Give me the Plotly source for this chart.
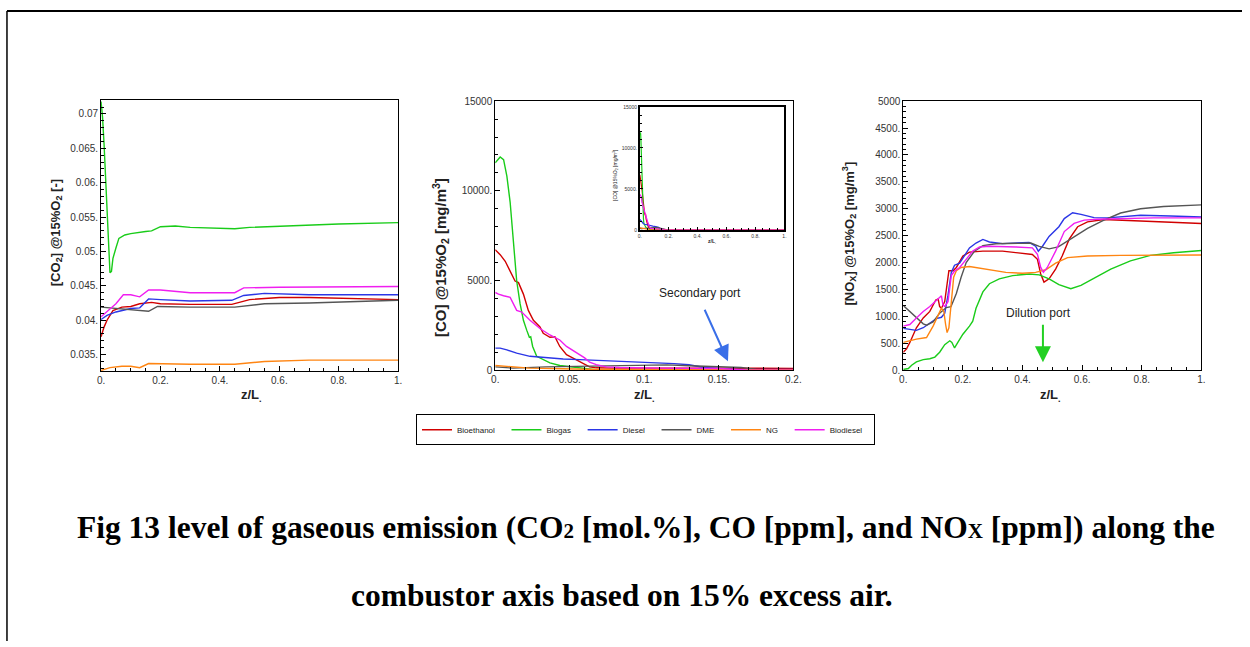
import plotly.graph_objects as go

W, H = 1250, 647

fuels = ["Bioethanol", "Biogas", "Diesel", "DME", "NG", "Biodiesel"]
colors = ["#d10000", "#19cc19", "#2b36e6", "#555555", "#ff8512", "#f01ef0"]

# ---------------- CO2 panel ----------------
co2_x = {
    "Bioethanol": [0, 0.01, 0.02, 0.04, 0.07, 0.1, 0.13, 0.17, 0.2, 0.3, 0.44, 0.5, 0.6, 0.7, 1.0],
    "Biogas": [0, 0.005, 0.01, 0.015, 0.02, 0.025, 0.03, 0.035, 0.04, 0.05, 0.06, 0.08, 0.1, 0.15,
               0.17, 0.2, 0.25, 0.3, 0.4, 0.45, 0.5, 0.6, 0.8, 1.0],
    "Diesel": [0, 0.02, 0.05, 0.1, 0.13, 0.15, 0.16, 0.2, 0.3, 0.44, 0.48, 0.55, 0.6, 0.7, 1.0],
    "DME": [0, 0.05, 0.1, 0.16, 0.19, 0.3, 0.45, 0.55, 0.7, 1.0],
    "NG": [0, 0.03, 0.07, 0.1, 0.13, 0.16, 0.3, 0.45, 0.55, 0.7, 1.0],
    "Biodiesel": [0, 0.03, 0.05, 0.075, 0.1, 0.13, 0.16, 0.2, 0.3, 0.45, 0.48, 0.6, 1.0],
}
co2_y = {
    "Bioethanol": [0.0376, 0.0390, 0.0400, 0.0414, 0.0419, 0.0420, 0.0424, 0.0426, 0.0424, 0.0423,
                   0.0423, 0.0430, 0.0433, 0.0433, 0.0430],
    "Biogas": [0.0718, 0.0695, 0.0657, 0.0610, 0.0562, 0.0495, 0.0469, 0.0471, 0.0490, 0.0505, 0.0519,
               0.0524, 0.0526, 0.0529, 0.0530, 0.0536, 0.0537, 0.0535, 0.0533, 0.0533, 0.0535, 0.0537,
               0.0540, 0.0542],
    "Diesel": [0.0401, 0.0407, 0.0412, 0.0417, 0.0418, 0.0426, 0.0431, 0.0430, 0.0428, 0.0429, 0.0436,
               0.0439, 0.0438, 0.0437, 0.0437],
    "DME": [0.0419, 0.0417, 0.0415, 0.0413, 0.0420, 0.0419, 0.0419, 0.0424, 0.0425, 0.0429],
    "NG": [0.0327, 0.0331, 0.0333, 0.0333, 0.0331, 0.0337, 0.0336, 0.0336, 0.0340, 0.0342, 0.0342],
    "Biodiesel": [0.0405, 0.0416, 0.0424, 0.0437, 0.0437, 0.0434, 0.0444, 0.0444, 0.0440, 0.0440,
                  0.0447, 0.0448, 0.0449],
}

# ---------------- CO panel ----------------
co_x = {
    "Bioethanol": [0, 0.0033, 0.0067, 0.01, 0.0133, 0.0156, 0.0189, 0.0222, 0.0256, 0.03, 0.0322, 0.0367,
                   0.04, 0.0433, 0.0478, 0.05, 0.0544, 0.06, 0.0633, 0.0678, 0.079, 0.11, 0.15, 0.18, 0.2, 1.0],
    "Biogas": [0, 0.0033, 0.0056, 0.0078, 0.01, 0.0122, 0.0144, 0.0167, 0.0189, 0.0211, 0.0229, 0.0238,
               0.0251, 0.0278, 0.0311, 0.0367, 0.0433, 0.05, 0.0567, 0.0633, 0.07, 0.2, 1.0],
    "Diesel": [0, 0.0033, 0.0078, 0.0144, 0.0233, 0.0344, 0.0456, 0.0567, 0.0678, 0.0789, 0.09, 0.11,
               0.12, 0.13, 0.14, 0.16, 0.2, 1.0],
    "DME": [0, 0.012, 0.034, 0.057, 0.079, 0.097, 0.115, 0.13, 0.15, 0.165, 0.175, 0.18, 0.2, 1.0],
    "NG": [0, 0.0078, 0.023, 0.0456, 0.068, 0.2, 1.0],
    "Biodiesel": [0, 0.0022, 0.0056, 0.01, 0.0144, 0.0178, 0.0233, 0.03, 0.0367, 0.0433, 0.0478, 0.0544,
                  0.06, 0.0633, 0.0678, 0.0744, 0.0833, 0.11, 0.15, 0.17, 0.2, 1.0],
}
co_y = {
    "Bioethanol": [6710, 6440, 6070, 5520, 4970, 4880, 4240, 3330, 2780, 2410, 2050, 1830, 1860, 1320,
                   860, 770, 585, 310, 183, 128, 110, 110, 60, 20, 0, 0],
    "Biogas": [11560, 11890, 11740, 10820, 9360, 7170, 4970, 3690, 2780, 2230, 1830, 1860, 1320, 770,
               620, 400, 256, 183, 110, 37, 0, 0, 0],
    "Diesel": [1225, 1225, 1130, 950, 770, 680, 620, 585, 550, 510, 440, 380, 360, 300, 150, 40, 0, 0],
    "DME": [183, 110, 183, 220, 256, 300, 290, 240, 180, 150, 40, 0, 0, 0],
    "NG": [256, 220, 110, 73, 37, 20, 20],
    "Biodiesel": [4330, 4240, 4150, 4060, 3330, 3240, 2780, 2320, 1960, 1680, 1320, 950, 680, 440, 310,
                  183, 146, 110, 90, 0, 0, 0],
}

# ---------------- NOx panel ----------------
nox_x = {
    "Bioethanol": [0, 0.011, 0.022, 0.044, 0.067, 0.089, 0.109, 0.117, 0.122, 0.128, 0.139, 0.147, 0.153,
                   0.167, 0.178, 0.2, 0.222, 0.267, 0.333, 0.433, 0.45, 0.461, 0.472, 0.489, 0.511, 0.533,
                   0.557, 0.585, 0.618, 0.673, 0.785, 0.896, 1.0],
    "Biogas": [0, 0.017, 0.028, 0.044, 0.067, 0.089, 0.106, 0.122, 0.139, 0.156, 0.163, 0.172, 0.183, 0.2,
               0.222, 0.233, 0.244, 0.267, 0.289, 0.322, 0.367, 0.422, 0.456, 0.489, 0.522, 0.562, 0.596,
               0.64, 0.696, 0.762, 0.829, 0.907, 1.0],
    "Diesel": [0, 0.022, 0.044, 0.067, 0.089, 0.111, 0.128, 0.139, 0.15, 0.161, 0.172, 0.189, 0.206, 0.222,
               0.244, 0.267, 0.289, 0.333, 0.422, 0.444, 0.453, 0.467, 0.489, 0.522, 0.54, 0.568, 0.596,
               0.64, 0.684, 0.729, 0.796, 0.896, 1.0],
    "DME": [0, 0.022, 0.044, 0.067, 0.078, 0.1, 0.122, 0.144, 0.16, 0.178, 0.194, 0.211, 0.239, 0.267,
            0.311, 0.378, 0.428, 0.456, 0.489, 0.52, 0.54, 0.573, 0.618, 0.673, 0.729, 0.796, 0.873, 1.0],
    "NG": [0, 0.022, 0.044, 0.078, 0.1, 0.128, 0.136, 0.142, 0.147, 0.153, 0.161, 0.169, 0.178, 0.194,
           0.222, 0.289, 0.344, 0.4, 0.444, 0.478, 0.511, 0.551, 0.618, 0.729, 0.84, 1.0],
    "Biodiesel": [0, 0.022, 0.044, 0.067, 0.089, 0.111, 0.122, 0.128, 0.133, 0.139, 0.15, 0.161, 0.172,
                  0.189, 0.211, 0.233, 0.256, 0.289, 0.378, 0.433, 0.45, 0.461, 0.47, 0.483, 0.511, 0.54,
                  0.573, 0.607, 0.651, 0.729, 0.84, 1.0],
}
nox_y = {
    "Bioethanol": [333, 394, 515, 788, 970, 1091, 1303, 1321, 1182, 1151, 1273, 1636, 1848, 1848, 1909,
                   2121, 2194, 2212, 2212, 2151, 2060, 1788, 1636, 1697, 1879, 2121, 2440, 2666, 2757,
                   2800, 2776, 2757, 2727],
    "Biogas": [12, 30, 91, 152, 194, 212, 242, 333, 473, 545, 515, 412, 515, 667, 818, 909, 1151, 1454,
               1606, 1697, 1757, 1788, 1770, 1697, 1588, 1515, 1576, 1709, 1879, 2030, 2133, 2182, 2224],
    "Diesel": [776, 758, 740, 788, 879, 957, 982, 1060, 1394, 1818, 1951, 1988, 2133, 2272, 2363, 2430,
               2382, 2351, 2375, 2303, 2212, 2303, 2485, 2666, 2818, 2927, 2897, 2836, 2830, 2848, 2879,
               2866, 2848],
    "DME": [1200, 1090, 970, 860, 836, 897, 1060, 1163, 1180, 1424, 1727, 2000, 2212, 2315, 2350, 2363,
            2363, 2300, 2254, 2290, 2363, 2485, 2636, 2788, 2921, 3000, 3042, 3072],
    "NG": [515, 545, 576, 606, 818, 1151, 1091, 848, 697, 788, 1273, 1727, 1848, 1909, 1927, 1866, 1818,
           1800, 1818, 1866, 1990, 2091, 2121, 2133, 2139, 2139],
    "Biodiesel": [818, 848, 970, 1091, 1182, 1303, 1345, 1382, 1212, 1182, 1273, 1757, 1842, 1909, 2060,
                  2212, 2290, 2303, 2290, 2272, 2151, 1909, 1818, 1909, 2212, 2576, 2727, 2788, 2806,
                  2818, 2830, 2830],
}

# tick labels
co2_yticks = [0.035, 0.04, 0.045, 0.05, 0.055, 0.06, 0.065, 0.07]
co2_yticktext = ["0.035.", "0.04.", "0.045.", "0.05.", "0.055.", "0.06.", "0.065.", "0.07"]
zl_ticks = [0, 0.2, 0.4, 0.6, 0.8, 1.0]
zl_ticktext = ["0.", "0.2.", "0.4.", "0.6.", "0.8.", "1."]
co_xticks = [0, 0.05, 0.1, 0.15, 0.2]
co_xticktext = ["0.", "0.05.", "0.1.", "0.15.", "0.2."]
co_yticks = [0, 5000, 10000, 15000]
co_yticktext = ["0", "5000.", "10000.", "15000"]
nox_yticks = [0, 500, 1000, 1500, 2000, 2500, 3000, 3500, 4000, 4500, 5000]
nox_yticktext = ["0.", "500.", "1000.", "1500.", "2000.", "2500.", "3000.", "3500.", "4000.", "4500.", "5000"]


def px_x(p):
    return p / W


def px_y(p):
    return 1 - p / H


fig = go.Figure()
LW = 1.4
PAD = "\u00a0\u00a0\u00a0"
for i, f in enumerate(fuels):
    c = colors[i]
    fig.add_trace(go.Scatter(x=co2_x[f], y=co2_y[f], mode="lines", line=dict(color=c, width=LW),
                             xaxis="x", yaxis="y", showlegend=False, name=f))
    fig.add_trace(go.Scatter(x=co_x[f], y=co_y[f], mode="lines", line=dict(color=c, width=LW),
                             xaxis="x2", yaxis="y2", showlegend=False, name=f))
    fig.add_trace(go.Scatter(x=nox_x[f], y=nox_y[f], mode="lines", line=dict(color=c, width=LW),
                             xaxis="x3", yaxis="y3", showlegend=True, name=f + PAD))
    fig.add_trace(go.Scatter(x=co_x[f], y=co_y[f], mode="lines", line=dict(color=c, width=1.2),
                             xaxis="x4", yaxis="y4", showlegend=False, name=f))

tick_font = dict(family="Liberation Sans, Arial", size=10, color="#333333")


def ax(domain, rng, tickvals, ticktext, minor_dtick, anchor, font=tick_font, ticklen=5, mlen=3, lw=1):
    return dict(domain=domain, range=rng, tickmode="array", tickvals=tickvals, ticktext=ticktext,
                showline=True, linecolor="black", linewidth=lw, mirror=True, ticks="inside",
                ticklen=ticklen, tickcolor="black", tickwidth=1, showgrid=False, zeroline=False,
                tickfont=font, anchor=anchor, fixedrange=True,
                minor=dict(ticks="inside", ticklen=mlen, tickcolor="black", dtick=minor_dtick,
                           showgrid=False))


# panel pixel boxes (left, right, top, bottom)
p1 = (98, 398, 96, 372)
p2 = (496, 797, 97, 371)
p3 = (908, 1209, 97, 371)
p4 = (642, 788, 103, 228)


def dom(p):
    return [px_x(p[0]), px_x(p[1])], [px_y(p[3]), px_y(p[2])]


d1x, d1y = dom(p1)
d2x, d2y = dom(p2)
d3x, d3y = dom(p3)
d4x, d4y = dom(p4)

small_font = dict(family="Liberation Sans, Arial", size=5, color="#333333")

fig.update_layout(
    width=W, height=H, margin=dict(l=0, r=0, t=0, b=0),
    paper_bgcolor="white", plot_bgcolor="white",
    xaxis=ax(d1x, [0, 1], zl_ticks, zl_ticktext, 0.05, "y"),
    yaxis=ax(d1y, [0.0326, 0.072], co2_yticks, co2_yticktext, 0.001, "x"),
    xaxis2=ax(d2x, [0, 0.2], co_xticks, co_xticktext, 0.01, "y2"),
    yaxis2=ax(d2y, [0, 15000], co_yticks, co_yticktext, 1000, "x2"),
    xaxis3=ax(d3x, [0, 1], zl_ticks, zl_ticktext, 0.05, "y3"),
    yaxis3=ax(d3y, [0, 5000], nox_yticks, nox_yticktext, 100, "x3"),
    xaxis4=ax(d4x, [0, 1], zl_ticks, zl_ticktext, 0.05, "y4", font=small_font, ticklen=3, mlen=2, lw=1.5),
    yaxis4=ax(d4y, [0, 15000], co_yticks, co_yticktext, 1000, "x4", font=small_font, ticklen=3, mlen=2, lw=1.5),
    showlegend=True,
    legend=dict(orientation="h", x=px_x(416), y=px_y(416), xanchor="left", yanchor="top",
                bordercolor="black", borderwidth=1, bgcolor="white",
                font=dict(family="Liberation Sans, Arial", size=8, color="#222222"),
                itemwidth=30, tracegroupgap=0),
)

ann = []


def note(x, y, text, size, angle=0, bold=False, family="Liberation Sans, Arial", color="#222222"):
    if bold:
        text = "<b>" + text + "</b>"
    return dict(x=px_x(x), y=px_y(y), xref="paper", yref="paper", text=text, textangle=angle,
                showarrow=False, xanchor="center", yanchor="middle",
                font=dict(family=family, size=size, color=color))


# x titles
for xc in (250, 647, 1057):
    ann.append(note(xc, 397, "z/L<sub>.</sub>", 13, bold=True))
# y titles
ann.append(note(53, 231, "[CO<sub>2</sub>] @15%O<sub>2</sub> [-]", 13, angle=-90, bold=True))
ann.append(note(440, 256, "[CO] @15%O<sub>2</sub> [mg/m<sup>3</sup>]", 15, angle=-90, bold=True))
ann.append(note(853, 232, "[NO<sub>X</sub>] @15%O<sub>2</sub> [mg/m<sup>3</sup>]", 13, angle=-90, bold=True))
# inset titles
ann.append(note(618, 172, "[CO] @15%O<sub>2</sub> [mg/m<sup>3</sup>]", 5, angle=-90))
ann.append(note(715, 240, "z/L<sub>.</sub>", 5, bold=True))
# port annotations
ann.append(note(703, 292, "Secondary port", 12))
ann.append(dict(x=px_x(731), y=px_y(362), xref="paper", yref="paper", ax=-24, ay=-53,
                axref="pixel", ayref="pixel", text="", showarrow=True, arrowhead=2, arrowsize=1.6,
                arrowwidth=2, arrowcolor="#3a6fe8"))
ann.append(note(1045, 313, "Dilution port", 12))
ann.append(dict(x=px_x(1049), y=px_y(363), xref="paper", yref="paper", ax=0, ay=-39,
                axref="pixel", ayref="pixel", text="", showarrow=True, arrowhead=2, arrowsize=1.6,
                arrowwidth=2, arrowcolor="#22d022"))
# caption
cap_family = "Liberation Serif, Times New Roman"
ann.append(note(648, 531, "Fig 13 level of gaseous emission (CO<span style='font-size:21px'>2</span> [mol.%], "
                          "CO [ppm], and NO<span style='font-size:21px'>X</span> [ppm]) along the",
                31.5, bold=True, family=cap_family, color="black"))
ann.append(note(624, 601, "combustor axis based on 15% excess air.", 31.5, bold=True,
                family=cap_family, color="black"))
fig.update_layout(annotations=ann)

# page frame lines
fig.update_layout(shapes=[
    dict(type="line", xref="paper", yref="paper", x0=px_x(3), x1=1, y0=px_y(5), y1=px_y(5),
         line=dict(color="black", width=2)),
    dict(type="line", xref="paper", yref="paper", x0=px_x(3), x1=px_x(3), y0=px_y(5), y1=0,
         line=dict(color="black", width=1.5)),
])

fig.write_html("out.html")
